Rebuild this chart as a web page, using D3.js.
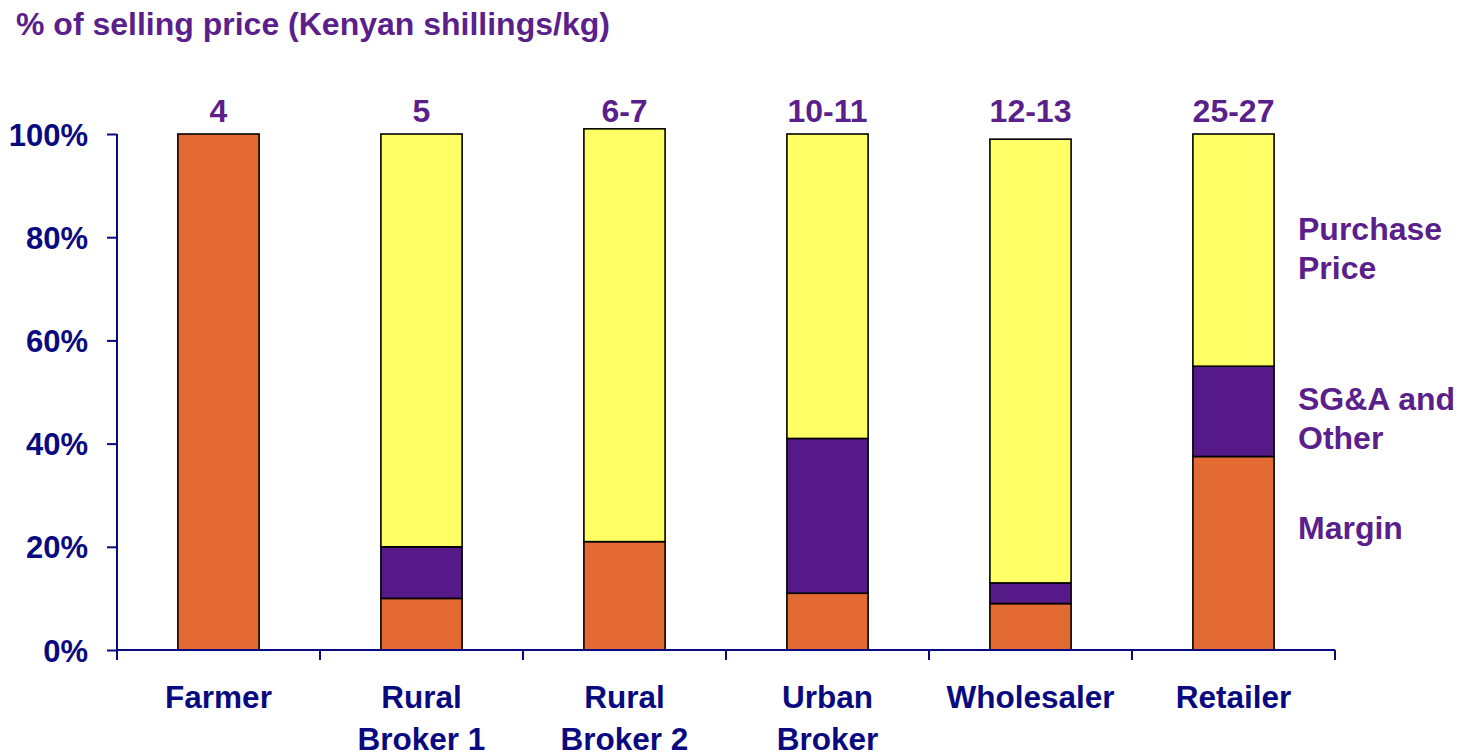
<!DOCTYPE html>
<html><head><meta charset="utf-8">
<script src="https://cdn.jsdelivr.net/npm/d3@7"></script>
<style>body{margin:0;background:#fff}svg{display:block}text{font-family:"Liberation Sans",Arial,sans-serif;font-weight:bold}</style>
</head><body>
<svg id="c" width="1457" height="754"></svg>
<script>
const categories = ["Farmer", "Rural|Broker 1", "Rural|Broker 2", "Urban|Broker", "Wholesaler", "Retailer"];
const priceLabels = ["4", "5", "6-7", "10-11", "12-13", "25-27"];
const margin = [100, 10, 21, 11, 9, 37.5];
const sgaOther = [0, 10, 0, 30, 4, 17.5];
const purchasePrice = [0, 80, 80, 59, 86, 45];
const seriesNames = ["Margin", "SG&A and|Other", "Purchase|Price"];
const seriesColors = ["#E36A33", "#551A87", "#FFFF66"];
const yTicks = [0, 20, 40, 60, 80, 100];

const svg = d3.select("#c");
const navy = "#0A0A80", purple = "#5B1F8C";
const x = d3.scaleBand().domain(categories).range([117, 1335]).paddingInner(0.6).paddingOuter(0.3);
const y = d3.scaleLinear().domain([0, 100]).range([650, 134]);

const rows = categories.map((c, i) => ({cat: c, Margin: margin[i], SGA: sgaOther[i], Purchase: purchasePrice[i]}));
const stack = d3.stack().keys(["Margin", "SGA", "Purchase"])(rows);

svg.append("text").attr("x", 16).attr("y", 35).attr("font-size", 32).attr("fill", purple)
  .text("% of selling price (Kenyan shillings/kg)");

stack.forEach((layer, li) => {
  svg.append("g").selectAll("rect").data(layer.filter(d => d[1] - d[0] > 0)).join("rect")
    .attr("x", d => x(d.data.cat)).attr("width", x.bandwidth())
    .attr("y", d => y(d[1])).attr("height", d => y(d[0]) - y(d[1]))
    .attr("fill", seriesColors[li]).attr("stroke", "#000").attr("stroke-width", 1.6);
});

// y axis
const ya = svg.append("g").attr("transform", "translate(117,0)")
  .call(d3.axisLeft(y).tickValues(yTicks).tickSize(10).tickFormat(d => d + "%"));
ya.selectAll("path,line").attr("stroke", navy).attr("stroke-width", 2);
ya.select(".domain").attr("d", "M0," + y(0) + "V" + y(100));
ya.selectAll("text").attr("font-size", 31).attr("fill", navy).attr("x", -29).attr("dy", "0.36em")
  .attr("font-family", '"Liberation Sans",Arial,sans-serif').attr("font-weight", "bold");

// x axis
const xg = svg.append("g");
xg.append("line").attr("x1", 117).attr("x2", 1335).attr("y1", y(0)).attr("y2", y(0)).attr("stroke", navy).attr("stroke-width", 2);
const bounds = categories.map(c => x(c) - x.step() * x.paddingInner() / 2).concat([x(categories[5]) + x.bandwidth() + x.step() * x.paddingInner() / 2]);
xg.selectAll("line.t").data(bounds).join("line").attr("class", "t")
  .attr("x1", d => d).attr("x2", d => d).attr("y1", y(0)).attr("y2", y(0) + 10).attr("stroke", navy).attr("stroke-width", 2);
categories.forEach(c => {
  const t = svg.append("text").attr("x", x(c) + x.bandwidth() / 2).attr("y", 708).attr("text-anchor", "middle")
    .attr("font-size", 31.5).attr("fill", navy);
  c.split("|").forEach((ln, j) => t.append("tspan").attr("x", x(c) + x.bandwidth() / 2).attr("dy", j ? 42 : 0).text(ln));
});

// value labels
categories.forEach((c, i) => {
  svg.append("text").attr("x", x(c) + x.bandwidth() / 2).attr("y", 122).attr("text-anchor", "middle")
    .attr("font-size", 32).attr("fill", purple).text(priceLabels[i]);
});

// legend labels
const legY = [539, 410, 240];
seriesNames.forEach((s, i) => {
  const t = svg.append("text").attr("x", 1298).attr("y", legY[i]).attr("font-size", 32).attr("fill", purple);
  s.split("|").forEach((ln, j) => t.append("tspan").attr("x", 1298).attr("dy", j ? 38.5 : 0).text(ln));
});
</script>
</body></html>
